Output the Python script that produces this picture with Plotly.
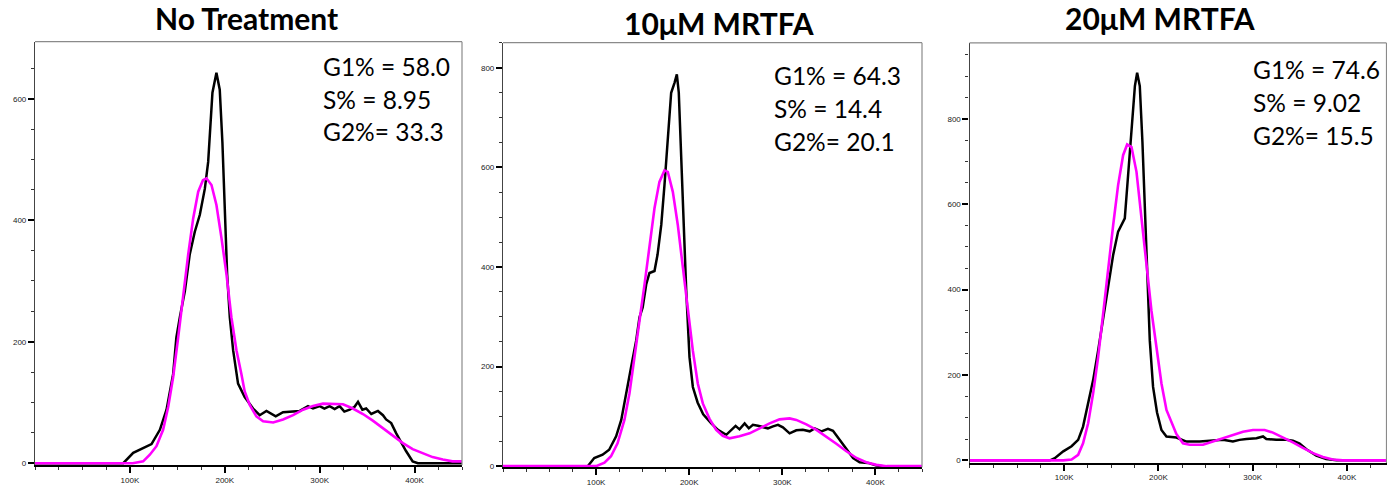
import plotly.graph_objects as go

# ---------------- data (x in thousands of channel units, y = count) ----------------
titles = ["No Treatment", "10μM MRTFA", "20μM MRTFA"]
stats = [
    ["G1% = 58.0", "S% = 8.95", "G2%= 33.3"],
    ["G1% = 64.3", "S% = 14.4", "G2%= 20.1"],
    ["G1% = 74.6", "S% = 9.02", "G2%= 15.5"],
]

p1_black_x = [0, 93, 103.5, 114, 122.8, 131.6, 138.6, 145.6, 149, 152.6, 157.9, 163, 168.4, 173.7, 179, 182.5, 184, 187, 191.2, 194.7, 197.5, 200, 202.5, 205.3, 208.8, 214, 221, 229.8, 236.8, 243.9, 249, 253.7, 261.4, 270, 279, 287.7, 293, 300, 305, 310.5, 315.8, 321, 326, 331.6, 336.8, 340.4, 345, 349, 354.4, 361.4, 366.7, 370, 375.4, 380.7, 386, 391, 398, 403.5, 450]
p1_black_y = [0, 0, 17, 25, 31.5, 55, 88, 147, 207, 240, 283, 343, 381, 409, 452, 496, 539, 610, 643, 615, 528, 420, 311, 240, 186, 131, 109, 90, 79, 86, 82, 77, 84, 85, 86, 94, 90, 94, 90, 94, 89, 94, 85, 88, 93, 101, 88, 90, 81, 86, 79, 72, 66, 49, 33, 20, 3, 0, 0]
p1_fit_x = [0, 103, 114, 121, 128, 135, 140.4, 145.6, 150.9, 156, 161.4, 166.7, 172, 177, 180.7, 186, 191.2, 196.5, 201.8, 207, 212.3, 217.5, 221, 226.3, 233.3, 240.4, 251, 261.4, 272, 282.5, 293, 303.5, 314, 324.6, 335, 345.6, 356, 366.7, 377, 387.7, 398, 408.8, 419, 429.8, 440, 450]
p1_fit_y = [0, 0, 3, 14, 28, 55, 93, 142, 207, 278, 343, 403, 447, 466, 469, 458, 425, 371, 311, 240, 186, 147, 118, 96, 77, 69, 67, 72, 79, 88, 94, 98, 98, 97, 90, 81, 70, 58, 45, 33, 23, 16, 10, 6, 3, 3]

p2_black_x = [0, 91, 98, 107, 114, 121.5, 127, 132, 137.6, 143, 146.6, 150, 153.8, 157.3, 162.7, 166, 170, 173.4, 177, 180.6, 184.2, 186.7, 188.8, 191.4, 193.9, 196.8, 200.3, 203.9, 209, 215, 223.7, 230.8, 239.8, 245, 249.8, 254, 259.5, 264, 268.4, 273.8, 284.5, 290, 295.3, 300.6, 307.8, 315, 322, 329.4, 334.7, 342, 349, 354.4, 361.6, 368.8, 376, 383, 392, 401, 408, 450]
p2_black_y = [0, 0, 16.5, 23, 33, 60, 93, 146, 199, 252, 299, 319, 365, 388, 392, 425, 485, 564, 651, 750, 770, 787, 750, 617, 485, 352, 219, 159, 128, 104, 86, 73, 63, 72, 81, 74, 86, 76, 83, 81, 76, 80, 83, 78, 66, 72, 73, 70, 76, 70, 75, 71, 53, 33, 16.5, 8, 6.6, 1.4, 0, 0]
p2_fit_x = [0, 100, 109, 116, 123, 130.4, 135.8, 141, 146.6, 152, 157.3, 162.7, 168, 173.4, 177, 182.4, 187.7, 193, 198.5, 203.9, 209.2, 214.6, 221.8, 229, 236, 243.3, 254, 264.8, 275.6, 286.3, 297, 307.8, 315, 325.8, 336.6, 347, 358, 368.8, 379.6, 390, 401, 412, 450]
p2_fit_y = [0, 0, 7, 20, 46, 93, 146, 212, 292, 365, 445, 518, 571, 594, 591, 551, 485, 405, 312, 232, 166, 126, 95, 73, 61, 56, 60, 66, 76, 86, 94, 96, 93, 84, 73, 60, 45, 30, 16.5, 8, 2.6, 0, 0]

p3_black_x = [0, 85, 90, 99, 107.8, 114.8, 120, 125.4, 130.7, 136, 141.3, 146.6, 152, 157.2, 164.3, 167.8, 171.4, 175, 177.4, 180.2, 183, 185.5, 188, 190.8, 194.3, 198.5, 203.2, 208.5, 219, 229.7, 243.8, 258, 268.5, 279, 286, 293.3, 304, 311, 314.5, 325, 335.7, 342.7, 349.8, 357, 367.5, 378, 389, 442]
p3_black_y = [0, 0, 5, 21, 33, 48, 79, 133, 188, 257, 335, 412, 482, 536, 567, 668, 784, 877, 908, 877, 746, 591, 436, 281, 172, 112, 71, 56, 53.5, 44, 44, 46, 48, 44, 48, 50, 52, 56, 50, 48, 48, 46, 39, 26, 11, 3, 0, 0]
p3_fit_x = [0, 99, 107.8, 114.8, 120, 125.4, 130.7, 136, 141.3, 146.6, 152, 157.2, 162.5, 166.8, 171.4, 176.7, 182, 187.3, 192.6, 198, 203.2, 208.5, 215.5, 219, 226, 233, 247.3, 258, 268.5, 279, 289.7, 300.3, 312.7, 321.5, 332, 342.7, 353.3, 364, 374.5, 385, 395.7, 442]
p3_fit_y = [0, 0, 2, 13, 40, 87, 157, 242, 343, 451, 552, 645, 715, 740, 734, 676, 575, 459, 350, 257, 180, 118, 79, 62, 40, 36.5, 36.5, 44, 52, 60, 67, 71, 71, 65, 54, 42, 29, 17, 8, 2, 0, 0]

x_tickvals = [100, 200, 300, 400]
x_ticktext = ["100K", "200K", "300K", "400K"]
y_tickvals = [[0, 200, 400, 600], [0, 200, 400, 600, 800], [0, 200, 400, 600, 800]]

# ---------------- layout geometry (page pixels) ----------------
W, H = 1387, 492


def fx_(px):
    return px / W


def fy_(py):
    return 1 - py / H


panels = [
    dict(x0=35, x1=462, y0=42, y1=469, xr=[0, 450], yr=[-3.3, 694]),
    dict(x0=503, x1=922, y0=43, y1=471, xr=[0, 450], yr=[-2, 850.6]),
    dict(x0=969.5, x1=1386.5, y0=43.3, y1=466.7, xr=[-0.5, 442], yr=[-6, 978]),
]
title_pos = [(246, 18), (719, 23), (1160, 18)]
stat_pos = [(320.5, [67, 100, 133]), (772, [76, 109, 143]), (1251, [70, 103, 137])]

series = [
    (p1_black_x, p1_black_y, p1_fit_x, p1_fit_y),
    (p2_black_x, p2_black_y, p2_fit_x, p2_fit_y),
    (p3_black_x, p3_black_y, p3_fit_x, p3_fit_y),
]

fig = go.Figure()
annotations = []
shapes = []
tickfont = dict(family="Liberation Sans", size=8, color="#222")
for i, (p, s) in enumerate(zip(panels, series)):
    n = "" if i == 0 else str(i + 1)
    bx, by, fxs, fys = s
    fig.add_trace(go.Scatter(x=bx, y=by, mode="lines", line=dict(color="black", width=2.5),
                             xaxis="x" + n, yaxis="y" + n, showlegend=False, hoverinfo="skip"))
    fig.add_trace(go.Scatter(x=fxs, y=fys, mode="lines", line=dict(color="#FF00FF", width=2.6),
                             xaxis="x" + n, yaxis="y" + n, showlegend=False, hoverinfo="skip"))
    xa = dict(domain=[fx_(p["x0"]), fx_(p["x1"])], range=p["xr"], anchor="y" + n,
              tickmode="array", tickvals=x_tickvals, ticktext=x_ticktext,
              ticks="outside", ticklen=6, tickwidth=1.5, tickcolor="black",
              minor=dict(dtick=25, tick0=0, ticks="outside", ticklen=3, tickwidth=1, tickcolor="#333"),
              showline=True, linecolor="black", linewidth=1.6, showgrid=False, zeroline=False,
              tickfont=tickfont)
    ya = dict(domain=[fy_(p["y1"]), fy_(p["y0"])], range=p["yr"], anchor="x" + n,
              tickmode="array", tickvals=y_tickvals[i], ticktext=[str(v) for v in y_tickvals[i]],
              ticks="outside", ticklen=6, tickwidth=1.5, tickcolor="black",
              minor=dict(dtick=50, tick0=0, ticks="outside", ticklen=3, tickwidth=1, tickcolor="#333"),
              showline=True, linecolor="#444", linewidth=1.2, showgrid=False, zeroline=False,
              tickfont=tickfont)
    fig.update_layout(**{"xaxis" + n: xa, "yaxis" + n: ya})
    # top and right frame borders
    shapes.append(dict(type="line", xref="x" + n + " domain", yref="y" + n + " domain",
                       x0=0, x1=1, y0=1, y1=1, line=dict(color="#8a8a8a", width=1.2)))
    shapes.append(dict(type="line", xref="x" + n + " domain", yref="y" + n + " domain",
                       x0=1, x1=1, y0=0, y1=1, line=dict(color="#8a8a8a", width=1.2)))
    tx, ty = title_pos[i]
    annotations.append(dict(text="<b>" + titles[i] + "</b>", x=fx_(tx), y=fy_(ty), xref="paper", yref="paper",
                            xanchor="center", yanchor="middle", showarrow=False,
                            font=dict(family="Lato", size=30, color="black")))
    sx, sys_ = stat_pos[i]
    for line, yy in zip(stats[i], sys_):
        annotations.append(dict(text=line, x=fx_(sx), y=fy_(yy), xref="paper", yref="paper",
                                xanchor="left", yanchor="middle", showarrow=False,
                                font=dict(family="Lato", size=24.5, color="black")))

fig.update_layout(width=W, height=H, margin=dict(l=0, r=0, t=0, b=0),
                  paper_bgcolor="white", plot_bgcolor="white",
                  annotations=annotations, shapes=shapes)
fig.write_html("out.html", config={"displayModeBar": False},
               post_script="document.body.style.margin='0';document.body.style.overflow='hidden';")
